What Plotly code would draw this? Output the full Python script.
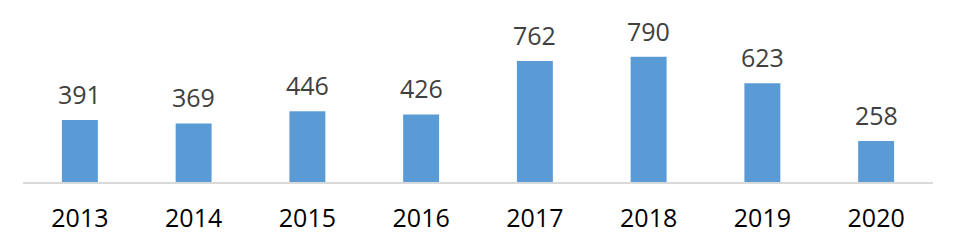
import plotly.graph_objects as go

years = ["2013", "2014", "2015", "2016", "2017", "2018", "2019", "2020"]
values = [391, 369, 446, 426, 762, 790, 623, 258]
pos = list(range(len(years)))

fig = go.Figure()
fig.add_trace(go.Bar(x=pos, y=values, width=0.316, marker_color="#5B9BD5", marker_line_width=0))

for i, v in zip(pos, values):
    fig.add_annotation(x=i, y=v, text=str(v), showarrow=False, yanchor="bottom",
                       yshift=7, font=dict(family="Open Sans", size=25, color="#404040"))

fig.update_layout(
    width=956, height=249,
    margin=dict(l=23, r=23, t=10, b=67),
    paper_bgcolor="white", plot_bgcolor="white",
    showlegend=False,
    xaxis=dict(range=[-0.5, len(years) - 0.5], tickvals=pos, ticktext=years,
               showline=True, linecolor="#D9D9D9", linewidth=2, showgrid=False, zeroline=False,
               ticks="outside", ticklen=13, tickcolor="rgba(0,0,0,0)",
               tickfont=dict(family="Open Sans", size=25, color="#000000")),
    yaxis=dict(range=[0, 1084], visible=False, showgrid=False),
)
fig.write_html("out.html")
